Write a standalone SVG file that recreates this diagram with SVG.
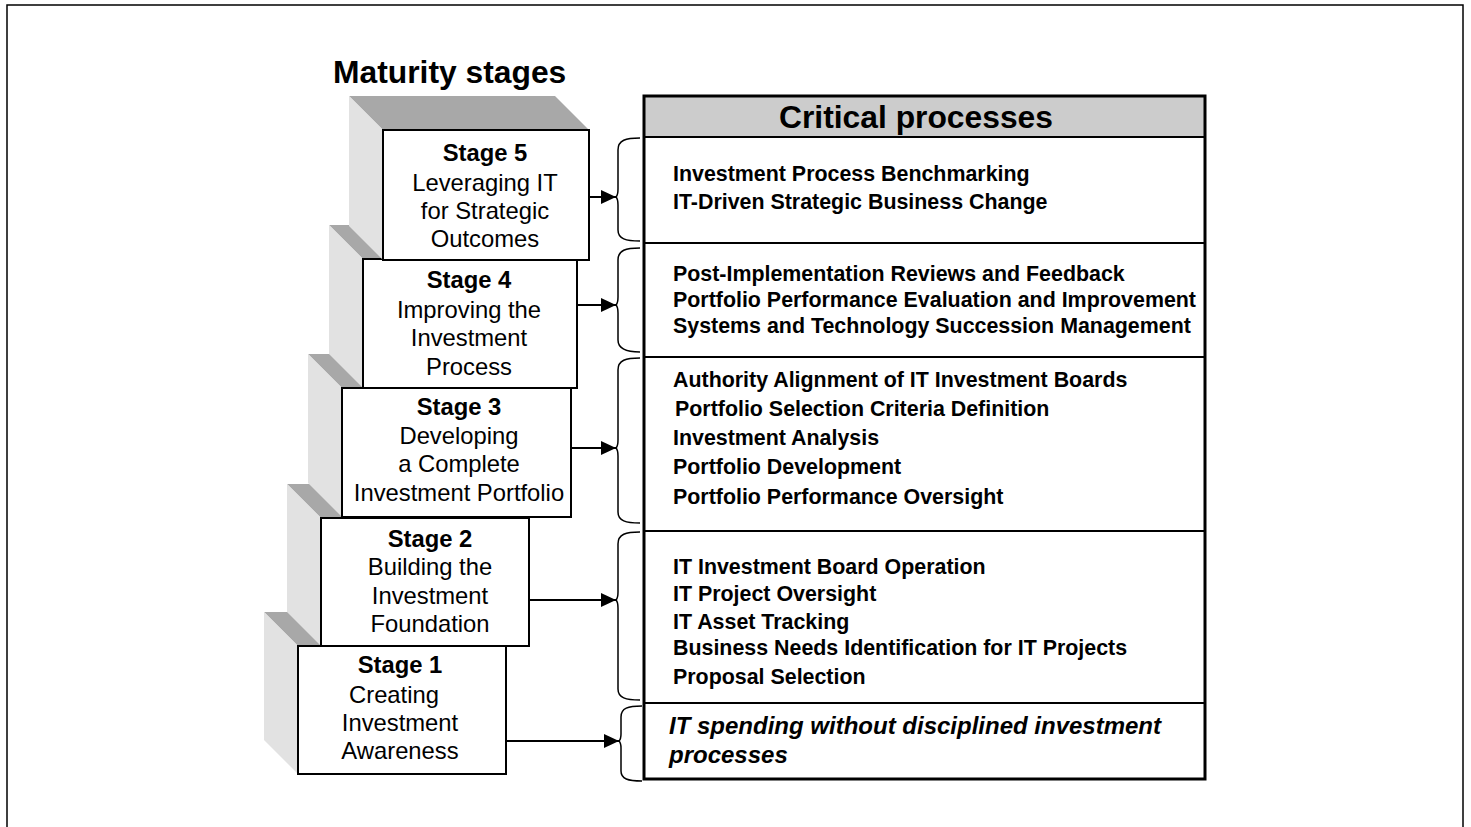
<svg xmlns="http://www.w3.org/2000/svg" width="1471" height="827" viewBox="0 0 1471 827">
<style>
.frame{fill:none;stroke:#000;stroke-width:1.5}
.top{fill:#a8a8a8}
.side{fill:#e2e2e2}
.front{fill:#fff;stroke:#000;stroke-width:2}
.st{font-family:"Liberation Sans",Arial,sans-serif;font-size:23.8px;text-anchor:middle;fill:#000}
.b{font-weight:bold}
.title{font-family:"Liberation Sans",Arial,sans-serif;font-size:31.8px;font-weight:bold;fill:#000}
.item{font-family:"Liberation Sans",Arial,sans-serif;font-size:21.4px;font-weight:bold;fill:#000}
.ital{font-family:"Liberation Sans",Arial,sans-serif;font-size:24px;font-weight:bold;font-style:italic;fill:#000}
.brace{fill:none;stroke:#000;stroke-width:1.5}
.arrow{fill:none;stroke:#000;stroke-width:2;marker-end:url(#ah)}
.row{stroke:#000;stroke-width:2}
</style>
<defs>
<marker id="ah" markerUnits="userSpaceOnUse" markerWidth="16" markerHeight="14" refX="15" refY="7" orient="auto">
<path d="M0,0 L15,7 L0,14 z" fill="#000"/>
</marker>
</defs>
<rect class="frame" x="7" y="5" width="1456" height="860"/>
<text class="title" x="333" y="83">Maturity stages</text>

<g id="stage1">
<polygon class="top" points="264,612 472,612 506,646 298,646"/>
<polygon class="side" points="264,612 298,646 298,774 264,740"/>
<rect class="front" x="298" y="646" width="208" height="128"/>
<text class="st b" x="400" y="673">Stage 1</text>
<text class="st" x="394" y="703">Creating</text>
<text class="st" x="400" y="731">Investment</text>
<text class="st" x="400" y="759">Awareness</text>
</g>
<g id="stage2">
<polygon class="top" points="287,484 495,484 529,518 321,518"/>
<polygon class="side" points="287,484 321,518 321,646 287,612"/>
<rect class="front" x="321" y="518" width="208" height="128"/>
<text class="st b" x="430" y="547">Stage 2</text>
<text class="st" x="430" y="575">Building the</text>
<text class="st" x="430" y="604">Investment</text>
<text class="st" x="430" y="632">Foundation</text>
</g>
<g id="stage3">
<polygon class="top" points="308,354 537,354 571,388 342,388"/>
<polygon class="side" points="308,354 342,388 342,517 308,483"/>
<rect class="front" x="342" y="388" width="229" height="129"/>
<text class="st b" x="459" y="415">Stage 3</text>
<text class="st" x="459" y="444">Developing</text>
<text class="st" x="459" y="472">a Complete</text>
<text class="st" x="459" y="501">Investment Portfolio</text>
</g>
<g id="stage4">
<polygon class="top" points="329,225 543,225 577,259 363,259"/>
<polygon class="side" points="329,225 363,259 363,388 329,354"/>
<rect class="front" x="363" y="259" width="214" height="129"/>
<text class="st b" x="469" y="288">Stage 4</text>
<text class="st" x="469" y="318">Improving the</text>
<text class="st" x="469" y="346">Investment</text>
<text class="st" x="469" y="375">Process</text>
</g>
<g id="stage5">
<polygon class="top" points="349,96 555,96 589,130 383,130"/>
<polygon class="side" points="349,96 383,130 383,260 349,226"/>
<rect class="front" x="383" y="130" width="206" height="130"/>
<text class="st b" x="485" y="161">Stage 5</text>
<text class="st" x="485" y="191">Leveraging IT</text>
<text class="st" x="485" y="219">for Strategic</text>
<text class="st" x="485" y="247">Outcomes</text>
</g>

<g id="critical-processes">
<rect x="644" y="96" width="561" height="41" fill="#cccccc"/>
<text class="title" x="916" y="128" text-anchor="middle" font-size="32.5px">Critical processes</text>
<line class="row" x1="644" y1="137" x2="1205" y2="137"/>
<line class="row" x1="644" y1="243" x2="1205" y2="243"/>
<line class="row" x1="644" y1="357" x2="1205" y2="357"/>
<line class="row" x1="644" y1="531" x2="1205" y2="531"/>
<line class="row" x1="644" y1="703" x2="1205" y2="703"/>
<rect x="644" y="96" width="561" height="683" fill="none" stroke="#000" stroke-width="3"/>
</g>
<g id="row5-processes">
<text class="item" x="673" y="181">Investment Process Benchmarking</text>
<text class="item" x="673" y="209">IT-Driven Strategic Business Change</text>
</g>
<g id="row4-processes">
<text class="item" x="673" y="281">Post-Implementation Reviews and Feedback</text>
<text class="item" x="673" y="307">Portfolio Performance Evaluation and Improvement</text>
<text class="item" x="673" y="333">Systems and Technology Succession Management</text>
</g>
<g id="row3-processes">
<text class="item" x="673" y="387">Authority Alignment of IT Investment Boards</text>
<text class="item" x="675" y="416">Portfolio Selection Criteria Definition</text>
<text class="item" x="673" y="445">Investment Analysis</text>
<text class="item" x="673" y="474">Portfolio Development</text>
<text class="item" x="673" y="504">Portfolio Performance Oversight</text>
</g>
<g id="row2-processes">
<text class="item" x="673" y="574">IT Investment Board Operation</text>
<text class="item" x="673" y="601">IT Project Oversight</text>
<text class="item" x="673" y="629">IT Asset Tracking</text>
<text class="item" x="673" y="655">Business Needs Identification for IT Projects</text>
<text class="item" x="673" y="684">Proposal Selection</text>
</g>
<g id="row1-processes">
<text class="ital" x="669" y="734">IT spending without disciplined investment</text>
<text class="ital" x="669" y="763">processes</text>
</g>

<g id="connectors">
<path class="brace" d="M640,138 C626,138 618,140 618,150 L618,189 Q618,195 616,197 Q618,199 618,205 L618,230 C618,239 626,241 640,241"/>
<path class="brace" d="M640,248 C626,248 618,250 618,260 L618,297 Q618,303 616,305 Q618,307 618,313 L618,340 C618,349 626,352 640,352"/>
<path class="brace" d="M640,358 C626,358 618,360 618,370 L618,440 Q618,446 616,448 Q618,450 618,456 L618,512 C618,521 626,523 640,523"/>
<path class="brace" d="M640,532 C626,532 618,534 618,544 L618,592 Q618,598 616,600 Q618,602 618,608 L618,689 C618,698 626,700 640,700"/>
<path class="brace" d="M642,706 C628,706 621,708 621,717 L621,734 Q621,739 619,741 Q621,743 621,748 L621,771 C621,779 628,781 642,781"/>
<line class="arrow" x1="589" y1="197" x2="616" y2="197"/>
<line class="arrow" x1="577" y1="305" x2="616" y2="305"/>
<line class="arrow" x1="571" y1="448" x2="616" y2="448"/>
<line class="arrow" x1="529" y1="600" x2="616" y2="600"/>
<line class="arrow" x1="506" y1="741" x2="619" y2="741"/>
</g>
</svg>
